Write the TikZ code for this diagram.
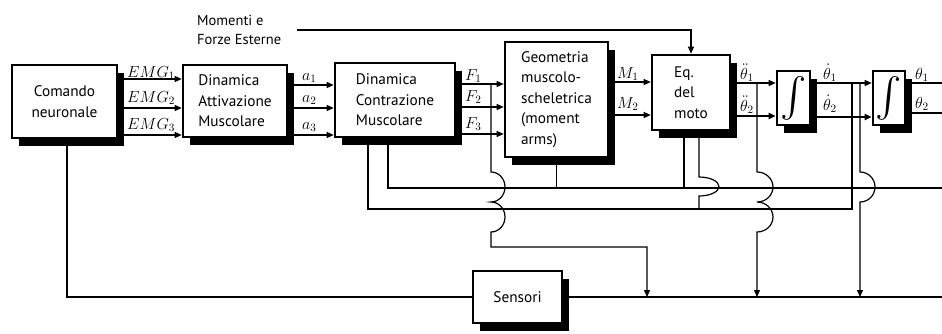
\RequirePackage{fix-cm}
\documentclass[tikz,border=0pt]{standalone}
\usepackage{graphicx}
\usepackage{fontspec}
\setmainfont{PT Sans}
\usetikzlibrary{arrows.meta,shadows}
\begin{document}
\begin{tikzpicture}[x=1pt,y=-1pt,
  blk/.style={draw,line width=2.6pt,fill=white,inner sep=0pt,
     drop shadow={shadow xshift=7pt,shadow yshift=-8pt,fill=black,opacity=1},
     font=\fontsize{15.3}{20.5}\selectfont},
  ln/.style={line width=1.2pt},
  thk/.style={line width=1.9pt},
  arr/.style={ln,-{Triangle[length=7pt,width=6pt]}},
  lab/.style={anchor=base west,inner sep=0pt,font=\fontsize{16}{16}\selectfont}
]
\useasboundingbox (0,0) rectangle (942,333);
% blocks
\node[blk,minimum width=105pt,minimum height=73pt,align=center] (cn) at (64.5,101.5) {Comando\\neuronale};
\node[blk,minimum width=104pt,minimum height=72pt,align=left] (da) at (235,101) {Dinamica\\Attivazione\\Muscolare};
\node[blk,minimum width=120pt,minimum height=74pt,align=left] (dc) at (395,100) {Dinamica\\Contrazione\\Muscolare};
\node[blk,minimum width=103pt,minimum height=115pt,align=left] (geo) at (556.5,99.5) {Geometria\\muscolo-\\scheletrica\\(moment\\arms)};
\node[blk,minimum width=78pt,minimum height=75pt,align=left] (eq) at (691,92.5) {Eq.\\del\\moto};
\node[blk,minimum width=33pt,minimum height=54pt] (i1) at (793.5,98) {\resizebox{!}{37pt}{$\int$}};
\node[blk,minimum width=32pt,minimum height=54pt] (i2) at (889,98) {\resizebox{!}{37pt}{$\int$}};
\node[blk,minimum width=89pt,minimum height=52pt] (sen) at (517.5,297) {Sensori};
\node[anchor=west,align=left,inner sep=0pt,font=\fontsize{14.5}{19}\selectfont] (mf) at (197,30) {Momenti e\\Forze Esterne};
% free ends
\coordinate (o1) at (942,83);
\coordinate (o2) at (942,113);
\coordinate (sr) at (942,297);
\coordinate (r188) at (942,188);
\coordinate (tF) at (491,84);
\coordinate (tA) at (757,83);
\coordinate (tB) at (852,83);
\coordinate (tC) at (860,83);
\coordinate (s1) at (647,297);
\coordinate (s2) at (757,297);
\coordinate (s3) at (860,297);
% forward connectors
\foreach \y in {79,108,135} \draw[arr] (cn.east |- 0,\y) -- (da.west |- 0,\y);
\foreach \y in {85,108,135} \draw[arr] (da.east |- 0,\y) -- (dc.west |- 0,\y);
\foreach \y in {84,107,134} \draw[arr] (dc.east |- 0,\y) -- (geo.west |- 0,\y);
\foreach \y in {82,115} \draw[arr] (geo.east |- 0,\y) -- (eq.west |- 0,\y);
\draw[arr] (eq.east |- 0,83) -- (i1.west |- 0,83);
\draw[arr,thk] (eq.east |- 0,116) -- (i1.west |- 0,116);
\draw[arr] (i1.east |- 0,83) -- (i2.west |- 0,83);
\draw[arr,thk] (i1.east |- 0,117) -- (i2.west |- 0,117);
\draw[ln] (i2.east |- o1) -- (o1);
\draw[thk] (i2.east |- o2) -- (o2);
\draw[arr] ([xshift=16pt]mf.east) -- (eq.north |- mf.east) -- (eq.north);
% feedback
\draw[ln] ([xshift=2.5pt]cn.south) |- (sen.west);
\draw[ln] (sen.east) -- (sr);
\draw[ln] (dc.south -| 388,0) -- (388,188) -- (r188);
\draw[ln] (geo.south) -- (geo.south |- r188);
\draw[ln] (eq.south -| 684,0) -- (684,188);
\draw[ln] (dc.south -| 368,0) -- (368,209) -- (852,209) -- (tB);
\draw[ln] (eq.south -| 699,0) -- (699,177) arc[start angle=-90,end angle=90,x radius=20,y radius=9.5] -- (699,209);
\draw[arr] (tF) -- (491,172) arc[start angle=-90,end angle=90,x radius=14,y radius=15]
   arc[start angle=-90,end angle=90,x radius=14,y radius=15] -- (491,247) -- (647,247) -- (s1);
\draw[arr] (tA) -- (757,172) arc[start angle=-90,end angle=90,x radius=16,y radius=15]
   arc[start angle=-90,end angle=90,x radius=16,y radius=15] -- (s2);
\draw[arr] (tC) -- (860,172) arc[start angle=-90,end angle=90,x radius=15,y radius=15] -- (s3);
% labels
\node[lab] (lE1) at (127,77) {$EMG_1$};
\node[lab] (lE2) at (127,102) {$EMG_2$};
\node[lab] (lE3) at (127,129) {$EMG_3$};
\node[lab] (la1) at (302,80) {$a_1$};
\node[lab] (la2) at (302,102) {$a_2$};
\node[lab] (la3) at (302,129) {$a_3$};
\node[lab] (lF1) at (465,80) {$F_1$};
\node[lab] (lF2) at (465,101) {$F_2$};
\node[lab] (lF3) at (465,128) {$F_3$};
\node[lab] (lM1) at (617,78) {$M_1$};
\node[lab] (lM2) at (617,108) {$M_2$};
\node[lab] (lt1) at (740,79) {$\ddot{\theta}_1$};
\node[lab] (lt2) at (740,111) {$\ddot{\theta}_2$};
\node[lab] (ld1) at (823,79) {$\dot{\theta}_1$};
\node[lab] (ld2) at (823,110) {$\dot{\theta}_2$};
\node[lab] (lp1) at (915,79) {$\theta_1$};
\node[lab] (lp2) at (915,108) {$\theta_2$};
\end{tikzpicture}
\end{document}
